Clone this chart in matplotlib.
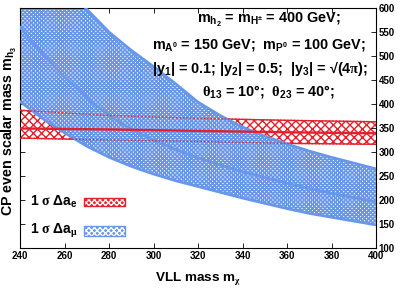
import matplotlib
matplotlib.use("Agg")
import matplotlib.pyplot as plt
from matplotlib.patches import Rectangle
import numpy as np

plt.rcParams["font.family"] = ["Liberation Sans", "DejaVu Sans"]
plt.rcParams["font.weight"] = "bold"
plt.rcParams["axes.labelweight"] = "bold"
plt.rcParams["mathtext.fontset"] = "custom"
plt.rcParams["mathtext.rm"] = "Liberation Sans:bold"
plt.rcParams["mathtext.bf"] = "Liberation Sans:bold"
plt.rcParams["mathtext.it"] = "Liberation Serif"
plt.rcParams["mathtext.default"] = "bf"
plt.rcParams["hatch.linewidth"] = 1.0

# Delta a_mu band (lower edge, central line, upper edge)
mu_x = [240, 250, 260, 270, 280, 290, 300, 310, 320, 330, 340, 350, 360, 370, 380, 390, 400]
mu_low = [405, 370, 340, 312, 289, 270, 254, 240, 228, 216, 204, 193, 182, 172, 164, 156, 148]
mu_mid = [560, 505, 456, 413, 376, 347, 325, 305, 288, 273, 259, 247, 235, 224, 214, 205, 196]
mu_up_x = [269.5, 280, 290, 300, 310, 320, 330, 340, 350, 360, 370, 380, 390, 400]
mu_up = [600, 550, 512, 478, 442, 404, 376, 352, 333, 317, 302, 289, 277, 265]

# Delta a_e band
e_x = [240, 280, 320, 360, 400]
e_low = [329, 325, 322, 318, 316]
e_mid = [349, 347, 344, 341, 339]
e_up = [387, 376, 370, 366, 363]

red = "#e3202b"
blue = "#6897ea"

fig = plt.figure(figsize=(4.15, 2.91), dpi=100)
ax = fig.add_axes([20 / 415, 1 - 248 / 291, 356 / 415, 240 / 291])

# red band, drawn under the blue one
ax.fill_between(e_x, e_low, e_up, facecolor="white", edgecolor=red, hatch="xxxx", linewidth=0, zorder=1)
ax.plot(e_x, e_up, color=red, lw=1.0, zorder=1.5)
ax.plot(e_x, e_low, color=red, lw=1.0, zorder=1.5)

# blue band
poly_x = list(mu_x) + mu_up_x[::-1] + [240]
poly_y = list(mu_low) + mu_up[::-1] + [600]
mu_band = ax.fill(poly_x, poly_y, facecolor="white", edgecolor=blue, hatch="x" * 8, linewidth=0, zorder=2)[0]
if hasattr(mu_band, "set_hatch_linewidth"):
    mu_band.set_hatch_linewidth(1.2)
ax.plot(mu_x, mu_low, color=blue, lw=1.9, zorder=3)
ax.plot(mu_x, mu_mid, color=blue, lw=1.9, zorder=3)
ax.plot(mu_up_x, mu_up, color=blue, lw=1.9, zorder=3)

# red edges seen through blue, and central line
ax.plot(e_x, e_up, color=red, lw=1.0, ls=(0, (1, 1.5)), zorder=4)
ax.plot(e_x, e_low, color=red, lw=1.0, ls=(0, (1, 1.5)), zorder=4)
ax.plot(e_x, e_mid, color=red, lw=1.7, zorder=4)

ax.set_xlim(240, 400)
ax.set_ylim(100, 600)
ax.set_xticks(np.arange(240, 401, 20))
ax.set_yticks(np.arange(100, 601, 50))
ax.tick_params(direction="in", length=3.5, width=0.6, top=True, right=True,
               labelleft=False, labelright=True, labelsize=7, pad=2)
for lab in ax.get_xticklabels() + ax.get_yticklabels():
    lab.set_fontweight("bold")
for s in ax.spines.values():
    s.set_linewidth(0.8)

ax.set_xlabel("VLL mass m$_{\\mathit{\\chi}}$", fontsize=9.7, fontweight="bold")
ax.set_ylabel("CP even scalar mass m$_{h_3}$", fontsize=10.3, fontweight="bold")
ax.xaxis.set_label_coords(0.5, -0.09)
ax.yaxis.set_label_coords(-0.002, 0.49)


def axfrac(px, py):
    return (px - 20) / 356, (248 - py) / 240


# parameter text
lines = [
    (197, 20, "m$_{h_2}$ = m$_{H^{\\pm}}$ = 400 GeV;"),
    (152, 45, "m$_{A^0}$ = 150 GeV;  m$_{P^0}$ = 100 GeV;"),
    (152, 68, "|y$_1$| = 0.1; |y$_2$| = 0.5;  |y$_3$| = \u221a(4$\\mathit{\\pi}$);"),
    (202, 91, "$\\mathit{\\theta}_{13}$ = 10°;  $\\mathit{\\theta}_{23}$ = 40°;"),
]
for px, py, s in lines:
    fx, fy = axfrac(px, py)
    ax.text(fx, fy, s, transform=ax.transAxes, ha="left", va="center",
            fontsize=10.4, fontweight="bold", zorder=6)

# legend entries
leg = [("1 $\\mathit{\\sigma}$ $\\mathit{\\Delta}$a$_e$", 201.5, red, 8),
       ("1 $\\mathit{\\sigma}$ $\\mathit{\\Delta}$a$_{\\mathit{\\mu}}$", 230.5, blue, 10)]
for s, py, c, h in leg:
    fx, fy = axfrac(30, py)
    ax.text(fx, fy, s, transform=ax.transAxes, ha="left", va="center",
            fontsize=10, fontweight="bold", zorder=6)
    x0, y0 = axfrac(84, py + h / 2)
    w = 41 / 356
    hh = h / 240
    ax.add_patch(Rectangle((x0, y0), w, hh, transform=ax.transAxes, facecolor=c,
                           edgecolor="white", hatch="x" * 6, linewidth=0, zorder=6))
    ax.add_patch(Rectangle((x0, y0), w, hh, transform=ax.transAxes, fill=False,
                           edgecolor=c, linewidth=1.0, zorder=7))

fig.savefig("out.png", dpi=100)
